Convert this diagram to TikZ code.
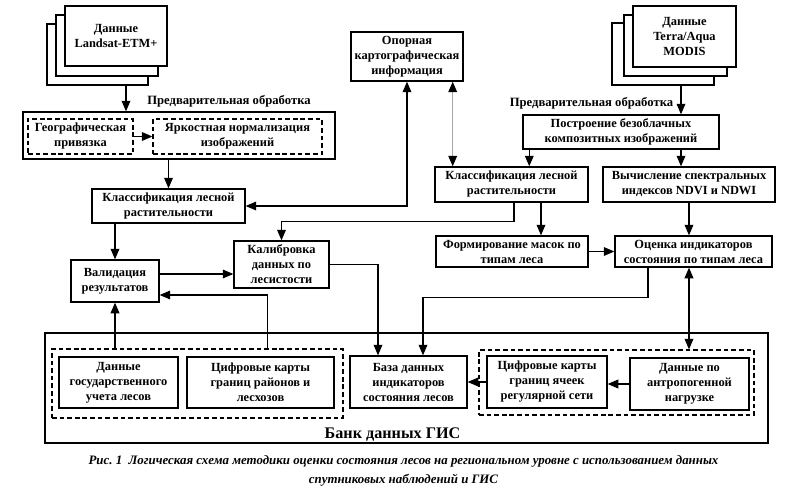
\documentclass[tikz,border=0pt]{standalone}
\usepackage{fontspec}
\setmainfont{Liberation Serif}
\usetikzlibrary{arrows.meta,calc,positioning}
\tikzset{>={Triangle[length=9pt,width=7.5pt]},
  every node/.style={font=\bfseries\fontsize{10.6}{12.8}\selectfont},
  sz/.style 2 args={minimum width=#1*0.03cm,minimum height=#2*0.03cm},
  box/.style={draw,line width=1.2pt,fill=white,inner sep=0pt,align=center},
  dbox/.style={draw,line width=1.1pt,dash pattern=on 4pt off 2.5pt,inner sep=0pt,align=center},
  sheet/.style={draw,line width=.9pt,fill=white,inner sep=0pt,align=center},
  arr/.style={->,line width=.9pt},
  darr/.style={<->,line width=.9pt},
  gdarr/.style={{Triangle[length=9pt,width=7.5pt,black]}-{Triangle[length=9pt,width=7.5pt,black]},
    draw=black!35,line width=.9pt},
  lbl/.style={font=\bfseries\fontsize{10.8}{12}\selectfont}}
\begin{document}
\begin{tikzpicture}[x=0.03cm,y=-0.03cm]
\useasboundingbox (0,0) rectangle (800,501);
% source data
\node[sheet,sz={101}{61}] (ls3) at (97.5,54.5) {};
\node[sheet,sz={102}{61}] (ls2) at (107,45.5) {};
\node[sheet,sz={102}{60}] (ls1) at (116,36) {Данные\\Landsat-ETM+};
\node[sheet,sz={102}{62}] (ter3) at (663,54) {};
\node[sheet,sz={103}{61}] (ter2) at (675.5,45.5) {};
\node[sheet,sz={103}{61}] (ter1) at (684.5,36.5) {Данные\\Terra/Aqua\\MODIS};
\node[lbl] (prel) at (229,101) {Предварительная обработка};
\node[lbl] (prer) at (591.5,103) {Предварительная обработка};
% preprocessing
\node[box,sz={312}{47}] (pre) at (179,135.5) {};
\node[dbox,sz={105}{35}] (geo) at (80.5,136.5) {Географическая\\привязка};
\node[dbox,sz={169}{35}] (norm) at (237.5,136.5) {Яркостная нормализация\\изображений};
\node[box,sz={153}{34}] (clsl) at (168.5,206) {Классификация лесной\\растительности};
\node[box,sz={112}{49}] (opor) at (407,56.5) {Опорная\\картографическая\\информация};
\node[box,sz={196}{34}] (post) at (621,132) {Построение безоблачных\\композитных изображений};
\node[box,sz={153}{35}] (clsr) at (511.5,184.5) {Классификация лесной\\растительности};
\node[box,sz={172}{35}] (ndvi) at (689,184.5) {Вычисление спектральных\\индексов NDVI и NDWI};
\node[box,sz={152}{31}] (mask) at (512,251.5) {Формирование масок по\\типам леса};
\node[box,sz={157}{31}] (ots) at (693.5,251.5) {Оценка индикаторов\\состояния по типам леса};
\node[box,sz={88}{42}] (val) at (115,281) {Валидация\\результатов};
\node[box,sz={95}{47}] (kal) at (281.5,264.5) {Калибровка\\данных по\\лесистости};
% GIS bank
\node[box,sz={723}{110}] (bank) at (406.5,388) {};
\node[font=\bfseries\fontsize{13.8}{16}\selectfont] (banklbl) at (392.5,435) {Банк данных ГИС};
\node[dbox,sz={291}{69}] (grpl) at (197.5,383.5) {};
\node[box,sz={119}{51}] (gos) at (118.5,382.5) {Данные\\государственного\\учета лесов};
\node[box,sz={147}{51}] (rai) at (260.5,382.5) {Цифровые карты\\границ районов и\\лесхозов};
\node[box,sz={117}{52}] (baza) at (408.5,382) {База данных\\индикаторов\\состояния лесов};
\node[dbox,sz={275}{65}] (grpr) at (616.5,382.5) {};
\node[box,sz={120}{52}] (yach) at (547,382) {Цифровые карты\\границ ячеек\\регулярной сети};
\node[box,sz={119}{52}] (antr) at (689.5,384) {Данные по\\антропогенной\\нагрузке};
\node[font=\bfseries\itshape\fontsize{11}{16}\selectfont,align=center] (cap) at (403.5,471)
  {Рис.~1~~Логическая схема методики оценки состояния лесов на региональном уровне с использованием данных\\спутниковых наблюдений и ГИС};
% connectors
\draw[arr] (ls3.south) ++(28.5,0) coordinate (ls3o) -- (ls3o |- pre.north);
\draw[arr] (geo.east) -- (norm.west);
\draw[arr] (clsl.north |- pre.south) -- (clsl.north);
\draw[darr] (opor.south) |- (clsl.east);
\draw[gdarr] ($(opor.south east)+(-11,0)$) coordinate (oporg) -- (oporg |- clsr.north);
\draw[arr] (ter3.south) ++(18,0) coordinate (tero) -- (tero |- post.north);
\draw[arr] (post.south -| tero) -- (tero |- ndvi.north);
\draw[arr] ($(post.south west)+(7,0)$) coordinate (posto) -- (posto |- clsr.north);
\draw[arr] (ndvi.south) -- (ndvi.south |- ots.north);
\draw[arr] ($(clsr.south)+(29.5,0)$) coordinate (clsro) -- (clsro |- mask.north);
\draw[arr] (mask.east) -- (ots.west);
\draw[arr] ($(clsr.south)+(2.5,0)$) -- ++(0,19) -| (kal.north);
\draw[arr] (val.north |- clsl.south) -- (val.north);
\draw[arr] ($(val.east)+(0,-7)$) coordinate (valo) -- (valo -| kal.west);
\draw[arr] (kal.east) -| ($(baza.north)+(-30.5,0)$);
\draw[arr] ($(ots.south)+(-45.5,0)$) -- ++(0,30) -| ($(baza.north)+(14.5,0)$);
\draw[darr] ($(ots.south)+(-4.5,0)$) coordinate (otso) -- (otso |- grpr.north);
\draw[arr] (val.south |- grpl.north) -- (val.south);
\draw[arr] ($(grpl.north west)+(216,0)$) |- ($(val.east)+(0,14)$);
\draw[arr] (antr.west) -- (antr.west -| yach.east);
\draw[arr] (yach.west) -- (baza.east);
\end{tikzpicture}
\end{document}
